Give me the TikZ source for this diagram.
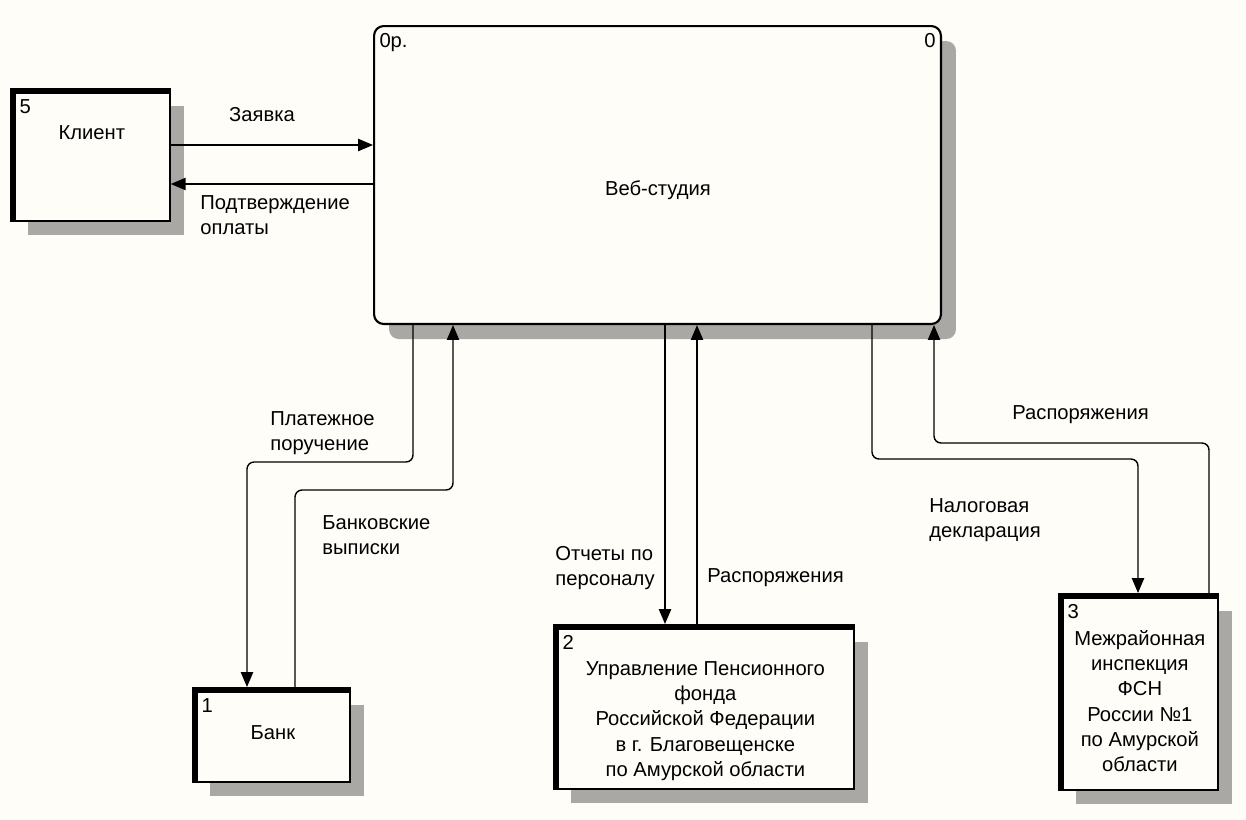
\documentclass[tikz,border=0pt]{standalone}
\usepackage{fontspec}
\setmainfont{Liberation Sans}
\usetikzlibrary{arrows.meta, calc, positioning, shadows}

\definecolor{paper}{RGB}{255,253,248}
\definecolor{shade}{RGB}{170,168,164}

\begin{document}
\begin{tikzpicture}[x=0.02cm, y=-0.02cm, >={Triangle[length=8.5pt, width=7pt]},
    every node/.style={font=\fontsize{11.5}{14.4}\selectfont, inner sep=0pt},
    flow/.style={->, line width=0.8pt, rounded corners=4pt},
    entity/.style={draw, line width=1pt, fill=paper, anchor=north west,
      drop shadow={shadow xshift=0.28cm, shadow yshift=-0.28cm, fill=shade, opacity=1}},
    num/.style={anchor=north west, inner xsep=3.5pt, inner ysep=4.5pt}]
  \fill[paper] (0,0) rectangle (1246,819);
  \useasboundingbox (0,0) rectangle (1246,819);

  % main activity
  \node[draw, line width=1.2pt, rounded corners=5.5pt, fill=paper, anchor=north west,
    minimum width=11.34cm, minimum height=5.96cm,
    drop shadow={shadow xshift=0.3cm, shadow yshift=-0.3cm, fill=shade, opacity=1}] (studio) at (373,25) {};
  \node[num] at (studio.north west) {0р.};
  \node[num, anchor=north east] at (studio.north east) {0};
  \node (studioname) at (658,190) {Веб-студия};

  % external entities
  \node[entity, minimum width=3.12cm, minimum height=2.58cm] (client) at (13,91) {};
  \node[entity, minimum width=3.08cm, minimum height=1.82cm] (bank) at (195,690) {};
  \node[entity, minimum width=5.94cm, minimum height=3.22cm] (pfr) at (556,627) {};
  \node[entity, minimum width=3.12cm, minimum height=3.86cm] (fns) at (1061,596) {};
  \foreach \n in {client, bank, pfr, fns}
    \draw[line width=3.5pt] (\n.south west) |- (\n.north east);

  \node[num] at (client.north west) {5};
  \node[num] at (bank.north west) {1};
  \node[num] at (pfr.north west) {2};
  \node[num] at (fns.north west) {3};
  \node (clientname) at ($(client.north)+(0,42)$) {Клиент};
  \node (bankname) at ($(bank.north)+(0,43)$) {Банк};
  \node[align=center] (pfrname) at ($(pfr.north)+(0,94)$)
    {Управление Пенсионного\\фонда\\Российской Федерации\\в г. Благовещенске\\по Амурской области};
  \node[align=center] (fnsname) at ($(fns.north)+(0,105)$)
    {Межрайонная\\инспекция\\ФСН\\России №1\\по Амурской\\области};

  % flows
  \draw[flow] (client.east |- 0,145) -- (studio.west |- 0,145);
  \draw[flow] (studio.west |- 0,184) -- (client.east |- 0,184);
  \draw[flow, shorten >=1.7pt] (studio.south -| 413,0) |- (247,462) -- (bank.north -| 247,0);
  \draw[flow] (bank.north -| 295,0) |- (453,490) -- (studio.south -| 453,0);
  \draw[flow, shorten >=1.7pt] (studio.south -| 665,0) -- (pfr.north -| 665,0);
  \draw[flow] (pfr.north -| 697,0) -- (studio.south -| 697,0);
  \draw[flow, shorten >=1.7pt] (studio.south -| 872,0) |- (1138,459) -- (fns.north -| 1138,0);
  \draw[flow] (fns.north -| 1209,0) |- (934,443) -- (studio.south -| 934,0);

  % flow labels
  \node (lorder) at (262,115) {Заявка};
  \node[align=left, anchor=west] (lconfirm) at (200,215) {Подтверждение\\оплаты};
  \node[align=left, anchor=west] (lpayment) at (270,433) {Платежное\\поручение};
  \node[align=left, anchor=west] (lstatement) at (322,535) {Банковские\\выписки};
  \node[align=left, anchor=west] (lreports) at (555,568) {Отчеты по\\персоналу};
  \node[anchor=west] (lorders) at (707,578) {Распоряжения};
  \node[align=left, anchor=west] (ltax) at (929,520) {Налоговая\\декларация};
  \node[anchor=west] (lorders2) at (1012,415) {Распоряжения};
\end{tikzpicture}
\end{document}
